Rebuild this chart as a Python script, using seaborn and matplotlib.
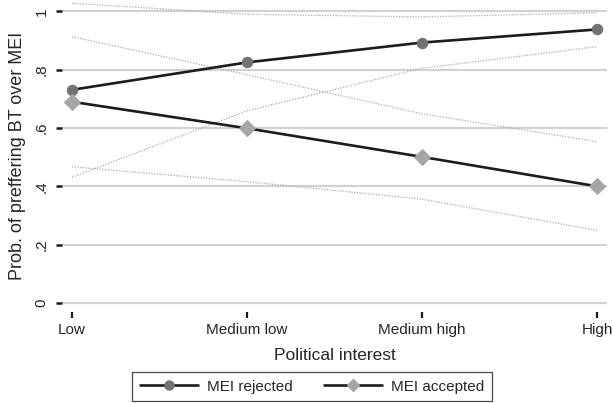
import matplotlib
matplotlib.use("Agg")
import matplotlib.pyplot as plt
import pandas as pd
import seaborn as sns

# categories on the x axis
categories = ["Low", "Medium low", "Medium high", "High"]

# predicted probabilities and 95% CI bounds
rejected = [0.731, 0.825, 0.893, 0.938]
rejected_lo = [0.431, 0.659, 0.805, 0.879]
rejected_hi = [1.028, 0.990, 0.981, 0.995]

accepted = [0.690, 0.599, 0.501, 0.400]
accepted_lo = [0.467, 0.416, 0.356, 0.249]
accepted_hi = [0.913, 0.783, 0.649, 0.553]

yticks = [0, 0.2, 0.4, 0.6, 0.8, 1.0]
ytick_labels = ["0", ".2", ".4", ".6", ".8", "1"]

GROUPS = ["MEI rejected", "MEI accepted"]


def build_frame() -> pd.DataFrame:
    rows = []
    for group, est, lo, hi in [
        ("MEI rejected", rejected, rejected_lo, rejected_hi),
        ("MEI accepted", accepted, accepted_lo, accepted_hi),
    ]:
        for i, cat in enumerate(categories):
            rows.append({"pos": i, "category": cat, "group": group,
                         "prob": est[i], "lo": lo[i], "hi": hi[i]})
    return pd.DataFrame(rows)


sns.set_theme(style="white")
plt.rcParams["font.family"] = ["Liberation Sans", "DejaVu Sans"]

df = build_frame()

fig = plt.figure(figsize=(6.13, 4.03), dpi=100)
ax = fig.add_axes([62 / 613, 1 - 312 / 403, (607 - 62) / 613, 312 / 403])

# confidence bounds, thin dotted gray
for group in GROUPS:
    d = df[df["group"] == group]
    for col in ["lo", "hi"]:
        sns.lineplot(x="pos", y=col, data=d, color="#ababab", lw=0.9,
                     linestyle=(0, (1, 1.2)), ax=ax, legend=False, zorder=2)

sns.lineplot(
    x="pos", y="prob", data=df,
    hue="group", hue_order=GROUPS,
    style="group", style_order=GROUPS,
    markers={"MEI rejected": "o", "MEI accepted": "D"},
    dashes=False,
    palette={"MEI rejected": "#1c1c1c", "MEI accepted": "#1c1c1c"},
    lw=1.9, ax=ax, legend=False, zorder=4,
)

# marker fills differ by group
marker_cols = {"MEI rejected": "#737373", "MEI accepted": "#a6a6a6"}
lines = ax.get_lines()[-2:]
for line, group in zip(lines, GROUPS):
    line.set_markerfacecolor(marker_cols[group])
    line.set_markeredgecolor(marker_cols[group])
    line.set_markersize(7.5 if group == "MEI rejected" else 8)

ax.set_xlim(-0.057, 3.057)
ax.set_ylim(-0.031, 1.039)
ax.set_yticks(yticks)
ax.set_yticklabels(ytick_labels, rotation=90, va="center", fontsize=11)
ax.set_xticks(range(len(categories)))
ax.set_xticklabels(categories, fontsize=11)

for s in ax.spines.values():
    s.set_visible(False)
ax.grid(True, axis="y", color="#d2d2d2", lw=1.6)
ax.grid(False, axis="x")
ax.tick_params(axis="y", direction="out", length=4.5, width=1.8, color="#1a1a1a",
               left=True, pad=5)
ax.tick_params(axis="x", direction="out", length=4, width=1.6, color="#1a1a1a",
               bottom=True, pad=4)

ax.set_xlabel("Political interest", fontsize=12.5, labelpad=8)
ax.set_ylabel("Prob. of preffering BT over MEI", fontsize=13, labelpad=6)

handles = [
    plt.Line2D([], [], color="#1c1c1c", lw=1.9, marker="o", markersize=6.5,
               markerfacecolor=marker_cols["MEI rejected"],
               markeredgecolor=marker_cols["MEI rejected"]),
    plt.Line2D([], [], color="#1c1c1c", lw=1.9, marker="D", markersize=6.5,
               markerfacecolor=marker_cols["MEI accepted"],
               markeredgecolor=marker_cols["MEI accepted"]),
]
leg = fig.legend(handles, GROUPS, loc="center", ncol=2,
                 bbox_to_anchor=(312 / 613, 1 - 386.7 / 403),
                 fontsize=11, frameon=True, fancybox=False,
                 handlelength=3.8, columnspacing=2.0, borderpad=0.5,
                 handletextpad=0.6)
leg.get_frame().set_edgecolor("#1a1a1a")
leg.get_frame().set_linewidth(0.9)

fig.savefig("out.png", dpi=100)
